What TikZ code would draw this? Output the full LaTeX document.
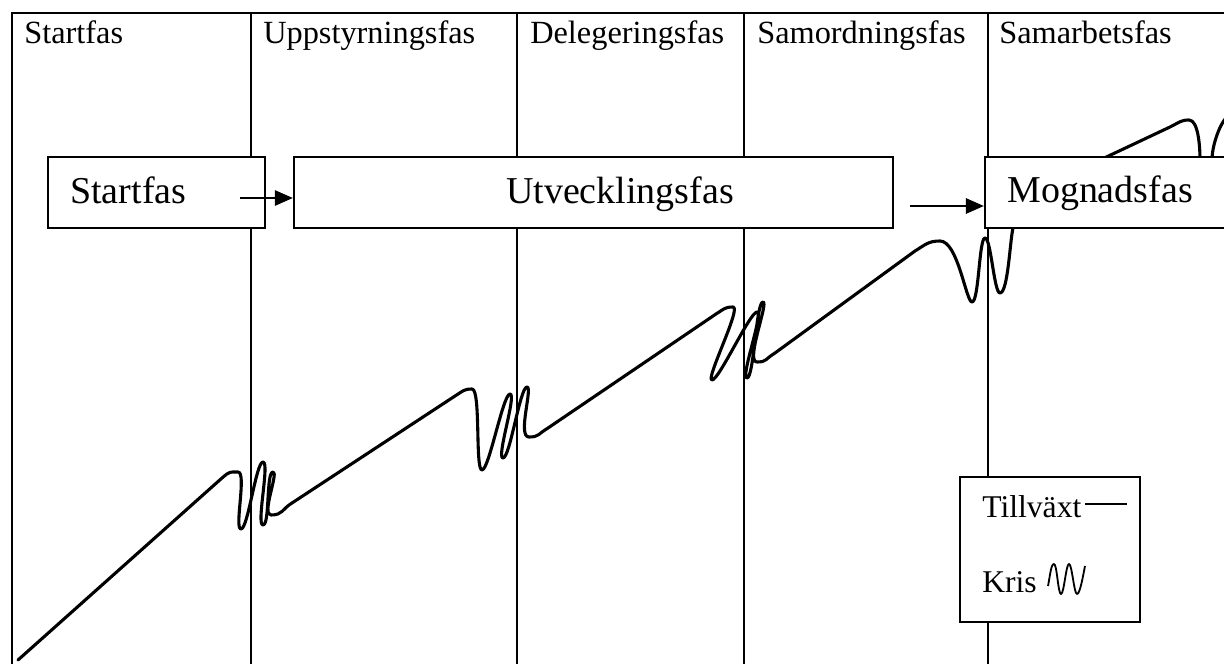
\documentclass[tikz,border=0pt]{standalone}
\usepackage{fontspec}
\setmainfont{Liberation Serif}
\usetikzlibrary{arrows.meta}

\begin{document}
\begin{tikzpicture}[x=0.025cm, y=-0.025cm,
    fasline/.style={line width=1.6pt},
    fasbox/.style={draw, fill=white, line width=1.5pt, minimum height=1.775cm, inner sep=0pt},
    fasarrow/.style={line width=1.6pt, -{Triangle[length=0.45cm, width=0.38cm]}},
    growth/.style={line width=2.2pt, line join=round, line cap=round},
    headtxt/.style={anchor=base west, inner sep=0pt, font=\fontsize{23}{27}\selectfont},
    boxtxt/.style={anchor=base west, inner sep=0pt, font=\fontsize{27}{32}\selectfont},
    legtxt/.style={anchor=base west, inner sep=0pt, font=\fontsize{22.5}{27}\selectfont}]

    \useasboundingbox (0,0) rectangle (1224,664);

    % frame and phase columns
    \draw[fasline] (1240,13) -- (12,13) -- (12,670);
    \foreach \x in {251,517,744,988}
        \draw[fasline] (\x,13) -- (\x,670);

    % phase headings
    \node[headtxt] (h-start) at (24,43) {Startfas};
    \node[headtxt] (h-uppst) at (263,43) {Uppstyrningsfas};
    \node[headtxt] (h-deleg) at (530,43) {Delegeringsfas};
    \node[headtxt] (h-samord) at (757,43) {Samordningsfas};
    \node[headtxt] (h-samarb) at (999,43) {Samarbetsfas};

    % growth curve with crises
    \draw[growth] (18,660) -- (222,478)
        .. controls +(8,-7) and +(-8,0) .. (238,472)
        .. controls +(9,0) and +(-7,0) .. (241,529)
        .. controls +(7,0) and +(-7,0) .. (263,462)
        .. controls +(7,0) and +(-7,0) .. (263,525)
        .. controls +(7,0) and +(-7,0) .. (273,472)
        .. controls +(6,0) and +(-10,0) .. (271,515)
        .. controls +(12,0) and +(-10,6) .. (292,503) -- (455,396)
        .. controls +(8,-5) and +(-8,0) .. (472,389)
        .. controls +(9,0) and +(-7,0) .. (482,470)
        .. controls +(7,0) and +(-7,0) .. (510,394)
        .. controls +(7,0) and +(-7,0) .. (503,458)
        .. controls +(7,0) and +(-7,0) .. (527,387)
        .. controls +(6,0) and +(-12,0) .. (529,437)
        .. controls +(10,0) and +(-10,6) .. (548,428) -- (716,314)
        .. controls +(8,-5) and +(-8,0) .. (733,307)
        .. controls +(9,0) and +(-7,0) .. (712,380)
        .. controls +(7,0) and +(-7,0) .. (757,312)
        .. controls +(7,0) and +(-7,0) .. (747,378)
        .. controls +(7,0) and +(-7,0) .. (763,302)
        .. controls +(6,0) and +(-12,0) .. (757,362)
        .. controls +(10,0) and +(-10,6) .. (775,353) -- (915,251)
        .. controls +(10,-6) and +(-12,0) .. (940,241)
        .. controls +(18,0) and +(-6,0) .. (972,302)
        .. controls +(7,0) and +(-6,0) .. (985,238)
        .. controls +(6,0) and +(-6,0) .. (1000,293)
        .. controls +(8,0) and +(-3,12) .. (1013,228)
        -- (1100,160) -- (1170,127)
        .. controls +(10,-5) and +(-8,0) .. (1189,120)
        .. controls +(9,0) and +(0,-15) .. (1200,160)
        -- (1212,160)
        .. controls +(0,-15) and +(-6,6) .. (1226,118);

    % life cycle boxes
    \node[fasbox, minimum width=5.425cm] (start) at (156.5,192.5) {};
    \node[fasbox, minimum width=14.975cm] (utv) at (593.5,192.5) {};
    \node[fasbox, minimum width=6.625cm] (mogn) at (1117.5,192.5) {};
    \node[boxtxt] (t-start) at (70,203) {Startfas};
    \node[boxtxt, anchor=base] (t-utv) at (620,203) {Utvecklingsfas};
    \node[boxtxt] (t-mogn) at (1007,202) {Mognadsfas};

    % arrows between boxes
    \coordinate (a1) at (240,198);
    \coordinate (a2) at (910,206);
    \draw[fasarrow] (a1) -- (utv.west |- a1);
    \draw[fasarrow] (a2) -- (mogn.west |- a2);

    % legend
    \node[draw, fill=white, line width=1.2pt, minimum width=4.5cm, minimum height=3.625cm] (legend) at (1050,549.5) {};
    \node[legtxt] (l-tillv) at (982,517) {Tillväxt};
    \node[legtxt] (l-kris) at (982,592) {Kris};
    \draw[line width=1.3pt] (1085,504) -- (1127,504);
    \draw[line width=1.3pt, line join=round] (1048,586)
        .. controls +(2,-10) and +(-3,0) .. (1054,564)
        .. controls +(3,0) and +(-3,0) .. (1061,594)
        .. controls +(3,0) and +(-3,0) .. (1069,564)
        .. controls +(3,0) and +(-3,0) .. (1077,594)
        .. controls +(3,0) and +(-2,10) .. (1085,566);

\end{tikzpicture}
\end{document}
